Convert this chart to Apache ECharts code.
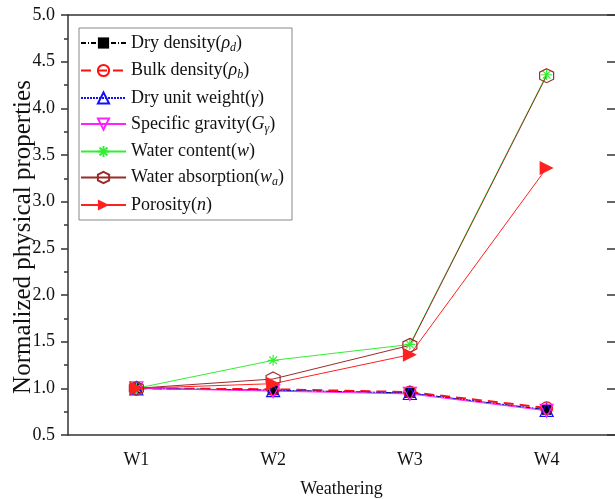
<!DOCTYPE html>
<html>
<head>
<meta charset="utf-8">
<script src="https://cdn.jsdelivr.net/npm/echarts@6/dist/echarts.min.js"></script>
<style>
html, body { margin: 0; padding: 0; background: #fff; }
#chart { width: 615px; height: 499px; }
</style>
</head>
<body>
<div id="chart"></div>
<script>
// 数据
var categories = ['W1', 'W2', 'W3', 'W4'];
var dryDensity = [1.00, 0.98, 0.95, 0.77];
var bulkDensity = [1.00, 0.99, 0.96, 0.79];
var dryUnitWeight = [1.00, 0.98, 0.95, 0.77];
var specificGravity = [1.00, 0.97, 0.94, 0.76];
var waterContent = [1.00, 1.30, 1.47, 4.36];
var waterAbsorption = [1.00, 1.10, 1.46, 4.35];
var porosity = [1.00, 1.05, 1.36, 3.36];

var FONT = '"Liberation Serif", "Times New Roman", serif';
var AXIS_COLOR = '#333';

// 图例文字（带下标）
var legendText = {
	'Dry density': 'Dry density({i|ρ}{s|d})',
	'Bulk density': 'Bulk density({i|ρ}{s|b})',
	'Dry unit weight': 'Dry unit weight({i|γ})',
	'Specific gravity': 'Specific gravity({i|G}{s|γ})',
	'Water content': 'Water content({i|w})',
	'Water absorption': 'Water absorption({i|w}{s|a})',
	'Porosity': 'Porosity({i|n})'
};

var asterisk = 'path://M5 0 L5 10 M0 5 L10 5 M1.5 1.5 L8.5 8.5 M1.5 8.5 L8.5 1.5';
var hexagon = 'path://M5 0 L9.33 2.5 L9.33 7.5 L5 10 L0.67 7.5 L0.67 2.5 Z';
var rightTri = 'path://M0 0 L10 5 L0 10 Z';

var makeSeries = function(name, data, color, lineType, lineWidth, symbol, size, filled, rotate) {
	return {
		name: name,
		type: 'line',
		data: data,
		symbol: symbol,
		symbolSize: size,
		symbolRotate: rotate || 0,
		showAllSymbol: true,
		lineStyle: { color: color, width: lineWidth, type: lineType },
		itemStyle: {
			color: filled ? color : 'transparent',
			borderColor: color,
			borderWidth: filled ? 0 : 1.2
		},
		emphasis: { disabled: true },
		animation: false
	};
};

var chart = echarts.init(document.getElementById('chart'));

var option = {
	backgroundColor: '#fff',
	grid: { left: 68, right: 0, top: 15, bottom: 64, containLabel: false, outerBoundsMode: 'none' },
	legend: {
		orient: 'vertical',
		left: 79,
		top: 28,
		padding: [6, 8, 6, 1],
		borderColor: '#888',
		borderWidth: 1,
		itemWidth: 45,
		itemHeight: 14,
		itemGap: 8,
		formatter: function(name) { return legendText[name]; },
		textStyle: {
			fontFamily: FONT,
			fontSize: 18,
			color: '#111',
			rich: {
				i: { fontFamily: FONT, fontSize: 18, fontStyle: 'italic', color: '#111' },
				s: { fontFamily: FONT, fontSize: 12, fontStyle: 'italic', color: '#111', padding: [9, 0, 0, 0] }
			}
		}
	},
	xAxis: [{
		type: 'category',
		data: categories,
		position: 'bottom',
		boundaryGap: true,
		name: 'Weathering',
		nameLocation: 'middle',
		nameGap: 45,
		nameMoveOverlap: false,
		nameTextStyle: { fontFamily: FONT, fontSize: 18, color: '#111' },
		axisLine: { lineStyle: { color: AXIS_COLOR, width: 1.5 } },
		axisTick: { alignWithLabel: true, length: 7, lineStyle: { color: AXIS_COLOR, width: 1.5 } },
		axisLabel: { fontFamily: FONT, fontSize: 18, color: '#111', margin: 16 },
		splitLine: { show: false }
	}, {
		// 中间的小刻度
		type: 'category',
		data: categories,
		position: 'bottom',
		boundaryGap: true,
		axisLine: { show: false },
		axisTick: { length: 4, lineStyle: { color: AXIS_COLOR, width: 1.5 } },
		axisLabel: { show: false },
		splitLine: { show: false }
	}, {
		type: 'category',
		data: categories,
		position: 'top',
		boundaryGap: true,
		axisLine: { lineStyle: { color: AXIS_COLOR, width: 1.5 } },
		axisTick: { alignWithLabel: true, inside: true, length: 7, lineStyle: { color: AXIS_COLOR, width: 1.5 } },
		axisLabel: { show: false },
		splitLine: { show: false }
	}],
	yAxis: [{
		type: 'value',
		position: 'left',
		min: 0.5,
		max: 5.0,
		interval: 0.5,
		name: 'Normalized physical properties',
		nameLocation: 'middle',
		nameGap: 32,
		nameMoveOverlap: false,
		nameTextStyle: { fontFamily: FONT, fontSize: 25, color: '#111', padding: [0, 24, 0, 0] },
		axisLine: { show: true, lineStyle: { color: AXIS_COLOR, width: 1.5 } },
		axisTick: { show: true, length: 7, lineStyle: { color: AXIS_COLOR, width: 1.5 } },
		minorTick: { show: true, splitNumber: 2, length: 4, lineStyle: { color: AXIS_COLOR, width: 1.5 } },
		axisLabel: {
			fontFamily: FONT, fontSize: 18, color: '#111', margin: 13,
			formatter: function(v) { return v.toFixed(1); }
		},
		splitLine: { show: false }
	}, {
		type: 'value',
		position: 'right',
		min: 0.5,
		max: 5.0,
		interval: 0.5,
		axisLine: { show: false },
		axisTick: { show: true, inside: true, length: 8, lineStyle: { color: AXIS_COLOR, width: 1.5 } },
		axisLabel: { show: false },
		splitLine: { show: false }
	}],
	series: [
		makeSeries('Dry density', dryDensity, '#000', [5, 2, 1, 2], 1, 'rect', 10, true),
		makeSeries('Bulk density', bulkDensity, '#ff1010', [10, 6], 2, 'circle', 12, false),
		makeSeries('Dry unit weight', dryUnitWeight, '#1010ff', [2, 1], 1, 'triangle', 13, false),
		makeSeries('Specific gravity', specificGravity, '#ff20ff', 'solid', 1, 'triangle', 13, false, 180),
		makeSeries('Water content', waterContent, '#33ee33', 'solid', 1, asterisk, 11, false),
		makeSeries('Water absorption', waterAbsorption, '#9c2a2a', 'solid', 1, hexagon, 14, false),
		makeSeries('Porosity', porosity, '#ff2020', 'solid', 1, rightTri, 14, true)
	]
};

chart.setOption(option);
</script>
</body>
</html>
